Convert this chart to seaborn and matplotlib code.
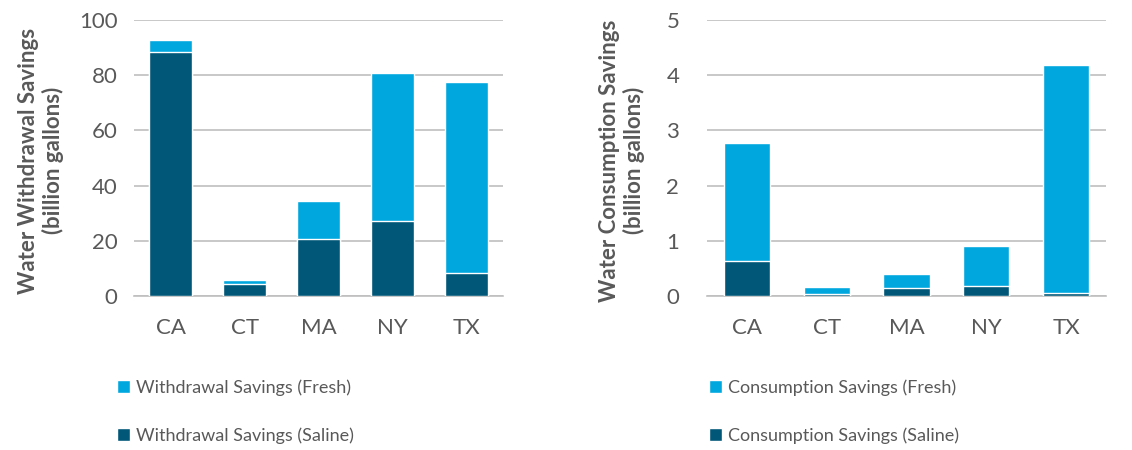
import matplotlib
matplotlib.use("Agg")
import matplotlib.pyplot as plt
from matplotlib.patches import Patch
import seaborn as sns
import pandas as pd

states = ["CA", "CT", "MA", "NY", "TX"]
withdrawal_saline = [88.5, 4.3, 20.6, 27.2, 8.4]
withdrawal_fresh = [4.1, 1.4, 13.9, 53.5, 69.0]
consumption_saline = [0.63, 0.04, 0.15, 0.19, 0.05]
consumption_fresh = [2.14, 0.13, 0.25, 0.72, 4.14]

FRESH = "#00A7DF"
SALINE = "#005777"
GRID = "#BFBFBF"
TXT = "#595959"

sns.set_theme(style="white")
plt.rcParams["font.family"] = ["Lato", "DejaVu Sans"]

fig = plt.figure(figsize=(11.32, 4.5), dpi=100)
ax1 = fig.add_axes([134 / 1132, 1 - 296 / 450, 369 / 1132, 276 / 450])
ax2 = fig.add_axes([707 / 1132, 1 - 296 / 450, 399 / 1132, 276 / 450])


def draw(ax, saline, fresh, ymax, step, ylabel, names, ypad, lab_x):
    df = pd.DataFrame({"state": states, "saline": saline,
                       "total": [s + f for s, f in zip(saline, fresh)]})
    sns.barplot(data=df, x="state", y="total", color=FRESH, width=0.58,
                saturation=1, ax=ax, zorder=3)
    sns.barplot(data=df, x="state", y="saline", color=SALINE, width=0.58,
                saturation=1, ax=ax, zorder=4)
    ax.set_ylim(0, ymax)
    ax.set_xlim(-0.5, 4.5)
    ticks = [i * step for i in range(int(round(ymax / step)) + 1)]
    ax.set_yticks(ticks)
    ax.set_yticklabels([str(int(t)) for t in ticks])
    ax.yaxis.grid(True, color=GRID, linewidth=1.2, zorder=0)
    ax.set_axisbelow(True)
    for s in ["top", "right", "left"]:
        ax.spines[s].set_visible(False)
    ax.spines["bottom"].set_color(GRID)
    ax.spines["bottom"].set_linewidth(1.2)
    ax.tick_params(axis="both", length=0, labelsize=16, labelcolor=TXT)
    ax.tick_params(axis="x", pad=16)
    ax.tick_params(axis="y", pad=ypad)
    ax.set_xlabel("")
    ax.set_ylabel(ylabel, fontsize=16, fontweight="bold", color=TXT,
                  linespacing=1.15)
    ax.yaxis.set_label_coords(lab_x, 0.49)
    handles = [Patch(facecolor=FRESH, label=names[0]),
               Patch(facecolor=SALINE, label=names[1])]
    return handles


h1 = draw(ax1, withdrawal_saline, withdrawal_fresh, 100, 20,
          "Water Withdrawal Savings\n(billion gallons)",
          ["Withdrawal Savings (Fresh)", "Withdrawal Savings (Saline)"],
          12, -0.19)
h2 = draw(ax2, consumption_saline, consumption_fresh, 5, 1,
          "Water Consumption Savings\n(billion gallons)",
          ["Consumption Savings (Fresh)", "Consumption Savings (Saline)"],
          20, -0.155)

for handles, x in [(h1, 110 / 1132), (h2, 702 / 1132)]:
    leg = fig.legend(handles=handles, loc="upper left", bbox_to_anchor=(x, 1 - 372 / 450),
                     frameon=False, fontsize=13, handlelength=0.7, handleheight=0.7,
                     handletextpad=0.35, labelspacing=1.75, borderaxespad=0)
    for t in leg.get_texts():
        t.set_color(TXT)

fig.savefig("out.png", dpi=100, facecolor="white")
